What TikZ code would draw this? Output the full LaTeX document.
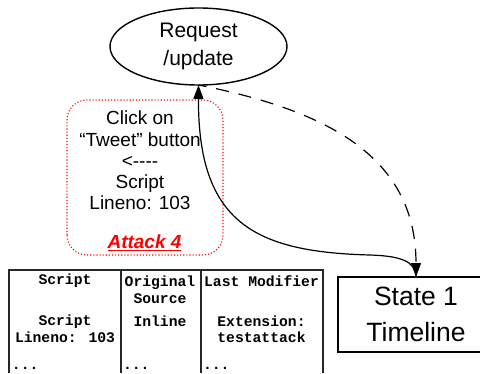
\documentclass[tikz,border=0pt]{standalone}
\usepackage{fontspec}
\usetikzlibrary{shapes.geometric,arrows.meta}
\newfontfamily\arial{Liberation Sans}[Ligatures=TeXOff]
\newfontfamily\cour{Liberation Mono}
\begin{document}
\begin{tikzpicture}[x=1pt,y=1pt,
  every node/.style={inner sep=0pt,outer sep=0pt},
  reqshape/.style={ellipse,draw,line width=1.4pt,minimum width=177pt,minimum height=77pt,
    align=center,font=\arial\fontsize{21}{28}\selectfont},
  statebox/.style={draw,line width=1.4pt,minimum width=156pt,minimum height=75pt,
    align=center,font=\arial\fontsize{26.5}{36.5}\selectfont},
  notebox/.style={draw=red,dotted,line width=1.1pt,rounded corners=20pt},
  notetext/.style={align=center,font=\arial\fontsize{19}{21.2}\selectfont},
  attack/.style={text=red,font=\arial\bfseries\itshape\fontsize{19}{21}\selectfont},
  tabline/.style={line width=1.3pt,draw=black!85},
  cell/.style={align=center,font=\cour\bfseries\fontsize{14.7}{16.5}\selectfont},
  tip/.style={-{Triangle[length=14pt,width=10pt]}},
  conn/.style={line width=1.2pt}
]
\useasboundingbox (0,0) rectangle (480,373);

% request node
\node[reqshape] (req) at (198.5,326.5) {Request\\/update};

% state node (runs past the right edge of the page)
\node[statebox] (state) at (416,58.5) {State 1\\Timeline};

% annotation box with the attack label
\draw[notebox] (67,118) rectangle (223,273);
\node[notetext] (note) at (140,212.5) {Click on\\“Tweet” button\\<----\\Script\\Lineno: 103};
\node[attack] (att) at (144.5,130) {\underline{Attack 4}};

% provenance table
\draw[tabline] (9,0) -- (9,103) -- (323,103) -- (323,0);
\draw[tabline] (121,0) -- (121,103);
\draw[tabline] (201,0) -- (201,103);
\node[cell] (h1) at (65,92) {Script};
\node[cell] (h2) at (160,83.5) {Original\\Source};
\node[cell] (h3) at (261.5,92) {Last Modifier};
\node[cell] (b1) at (65,44) {Script\\Lineno: 103};
\node[cell] (b2) at (160,52) {Inline};
\node[cell] (b3) at (261.5,44) {Extension:\\testattack};
\node[cell,anchor=base west] (d1) at (12,3.5) {...};
\node[cell,anchor=base west] (d2) at (123,3.5) {...};
\node[cell,anchor=base west] (d3) at (203,3.5) {...};

% connectors
\draw[conn,tip] (state.north) .. controls (416,112) and (400,117) .. (370,118)
  .. controls (255,121) and (198,150) .. (req.south);
\draw[conn,tip,dash pattern=on 13pt off 10pt,dash phase=-18pt] (req.south)
  .. controls (330,262) and (416,215) .. (state.north);
\end{tikzpicture}
\end{document}
